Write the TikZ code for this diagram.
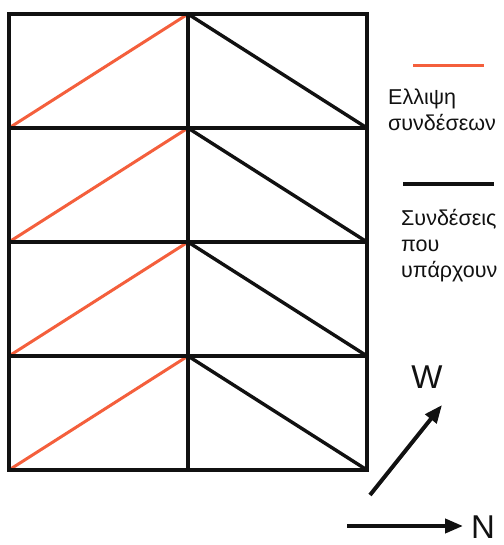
\documentclass[tikz,border=0pt]{standalone}
\usepackage{fontspec}
\setmainfont{Liberation Sans}
\usepackage{tikz}
\usetikzlibrary{arrows.meta}
\definecolor{missRed}{HTML}{F45F3C}
\definecolor{ink}{HTML}{111111}

\begin{document}
\begin{tikzpicture}[x=1pt,y=-1pt,
  gridline/.style={draw=ink,line width=3.8pt},
  existing/.style={draw=ink,line width=3.4pt},
  missing/.style={draw=missRed,line width=3pt},
  legend/.style={anchor=base west,align=left,text=ink,inner sep=0pt,font=\fontsize{21.5}{26}\selectfont},
  compass/.style={-{Triangle[length=18pt,width=14pt]},line width=4pt,draw=ink},
  dirlabel/.style={text=ink,inner sep=0pt,font=\fontsize{33}{36}\selectfont}]
  \useasboundingbox (0,0) rectangle (503,545);

  % cells with the links
  \foreach \r in {0,1,2,3} {
    \draw[existing] (188,14+114*\r) -- (367,128+114*\r);
    \draw[missing] (9,128+114*\r) -- (188,14+114*\r);
  }
  \draw[gridline] (9,14) rectangle (367,470);
  \draw[gridline] (188,14) -- (188,470);
  \foreach \r in {1,2,3}
    \draw[gridline] (9,14+114*\r) -- (367,14+114*\r);

  % legend
  \draw[missing] (413,66) -- (484,66);
  \node[legend] (missTxt) at (388,131) {Ελλιψη\\συνδέσεων};
  \draw[existing] (403,184) -- (494,184);
  \node[legend] (existTxt) at (401,277) {Συνδέσεις\\που\\υπάρχουν};

  % directions
  \coordinate (wTail) at (370,495);
  \coordinate (wTip) at (442,405);
  \coordinate (nTail) at (347,526);
  \coordinate (nTip) at (463,526);
  \draw[compass] (wTail) -- (wTip);
  \draw[compass] (nTail) -- (nTip);
  \node[dirlabel] (wLbl) at (427,377) {W};
  \node[dirlabel] (nLbl) at (483,527) {N};
\end{tikzpicture}
\end{document}
